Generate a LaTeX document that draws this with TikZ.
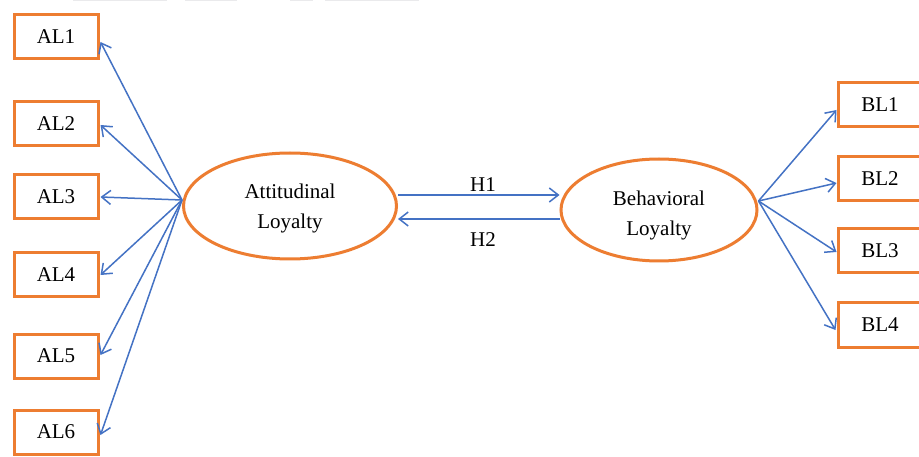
\documentclass[tikz,border=0pt]{standalone}
\usepackage{fontspec}
\setmainfont{Liberation Serif}
\usetikzlibrary{shapes.geometric,arrows.meta,calc}
\definecolor{boxorange}{RGB}{237,125,49}
\definecolor{linkblue}{RGB}{68,114,196}
\definecolor{rulegray}{RGB}{234,234,236}
\begin{document}
\begin{tikzpicture}[x=1pt,y=-1pt,
  font=\fontsize{21}{30}\selectfont,
  indicator/.style={draw=boxorange,line width=3pt,rectangle,
    minimum width=84pt,minimum height=44pt,inner sep=0pt},
  construct/.style={draw=boxorange,line width=3pt,ellipse,inner sep=0pt},
  caption/.style={align=center,inner sep=0pt},
  link/.style={draw=linkblue,line width=1.5pt,
    -{Straight Barb[length=9pt,width=14pt,line width=1.5pt]}},
  hlabel/.style={inner sep=0pt}]
\useasboundingbox (0,0) rectangle (919,457);
\fill[white] (0,0) rectangle (919,457);

% faint rules along the top edge
\foreach \a/\b in {73/167,185/237,290/313,325/419}
  \draw[rulegray,line width=1.2pt] (\a,0.6) -- (\b,0.6);

% attitudinal indicators
\node[indicator] (AL1) at (56,37)  {AL1};
\node[indicator] (AL2) at (56,124) {AL2};
\node[indicator] (AL3) at (56,197) {AL3};
\node[indicator] (AL4) at (56,275) {AL4};
\node[indicator] (AL5) at (56,356) {AL5};
\node[indicator] (AL6) at (56,432) {AL6};

% behavioral indicators
\node[indicator] (BL1) at (880,105) {BL1};
\node[indicator] (BL2) at (880,179) {BL2};
\node[indicator] (BL3) at (880,251) {BL3};
\node[indicator] (BL4) at (880,325) {BL4};

% constructs
\node[construct,minimum width=213pt,minimum height=106pt] (att) at (290,206) {};
\node[caption] (atttext) at (290,208) {Attitudinal\\Loyalty};
\node[construct,minimum width=196pt,minimum height=102pt] (beh) at (659,210) {};
\node[caption] (behtext) at (659,215) {Behavioral\\Loyalty};

\coordinate (attL) at ([yshift=6pt]att.west);
\coordinate (behR) at ([yshift=9pt]beh.east);

% loadings
\draw[link] (attL) -- ([xshift=1pt,yshift=-5pt]AL1.east);
\draw[link] (attL) -- ([xshift=1pt,yshift=-1pt]AL2.east);
\draw[link] (attL) -- ([xshift=1pt]AL3.east);
\draw[link] (attL) -- ([xshift=1pt]AL4.east);
\draw[link] (attL) -- ([xshift=1pt,yshift=1pt]AL5.east);
\draw[link] (attL) -- ([xshift=1pt,yshift=-3pt]AL6.east);

\draw[link] (behR) -- ([yshift=-5pt]BL1.west);
\draw[link] (behR) -- ([yshift=-4pt]BL2.west);
\draw[link] (behR) -- ([yshift=-1pt]BL3.west);
\draw[link] (behR) -- ([xshift=-1pt,yshift=-5pt]BL4.west);

% hypotheses
\coordinate (h1s) at ([yshift=11pt]att.east);
\coordinate (h2s) at ([yshift=-13pt]att.east);
\draw[link] (h1s) -- (h1s -| beh.west);
\draw[link] (h2s -| beh.west) -- (h2s);
\node[hlabel] (H1) at (483,185) {H1};
\node[hlabel] (H2) at (483,240) {H2};
\end{tikzpicture}
\end{document}
